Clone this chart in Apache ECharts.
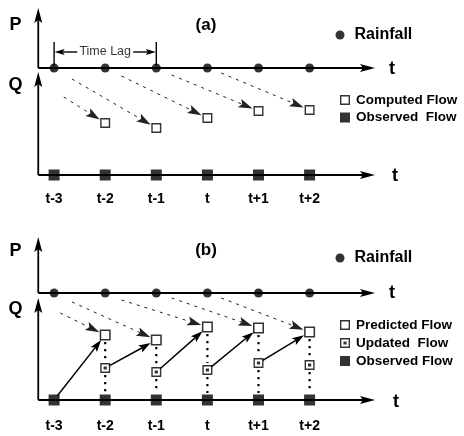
<!DOCTYPE html>
<html><head><meta charset="utf-8">
<script src="https://cdn.jsdelivr.net/npm/echarts@6/dist/echarts.min.js"></script>
<style>html,body{margin:0;padding:0;background:#fff}#c{width:464px;height:436px}</style>
</head><body><div id="c"></div>
<script>
// ---------- data ----------
const timeLabels = ['t-3', 't-2', 't-1', 't', 't+1', 't+2'];
const timeSteps = [0, 1, 2, 3, 4, 5];
const rainfallLevel = 10.7;
// panel (a)
const observedA = [0, 0, 0, 0, 0, 0];
const computedA = [null, 5.2, 4.7, 5.7, 6.4, 6.5];
const lagStartXA = [0.19, 0.35, 1.32, 2.30, 3.27];
const lagStartYA = [7.8, 9.6, 9.9, 10.0, 10.2];
// panel (b)
const observedB = [0, 0, 0, 0, 0, 0];
const predictedB = [null, 6.5, 6.0, 7.3, 7.2, 6.8];
const updatedB = [null, 3.2, 2.8, 3.0, 3.7, 3.5];
const lagStartXB = [0.12, 0.35, 1.32, 2.30, 3.27];
const lagStartYB = [8.7, 9.8, 10.0, 10.2, 10.2];
// time lag bracket (from t-3 to t-1)
const timeLag = [0, 2];

// ---------- frame ----------
const T0 = -0.31, T1 = 6.28;
const pTop = [16.7, 16.3], qTop = [10.3, 10.2];
const lagBarY = 12.3;

const FONT = '"Liberation Sans", Arial, Helvetica, sans-serif';
const RING = 'path://M0,0L10,0L10,10L0,10Z M1.4,1.4L1.4,8.6L8.6,8.6L8.6,1.4Z';
const RING_DOT = 'path://M0,0L10,0L10,10L0,10Z M1.4,1.4L1.4,8.6L8.6,8.6L8.6,1.4Z M3.4,3.4L6.6,3.4L6.6,6.6L3.4,6.6Z';

function arrowSeries(g, segments, o) {
  return {
    type: 'custom', xAxisIndex: g, yAxisIndex: g, silent: true, z: o.z || 2,
    data: segments, encode: { x: [0, 2], y: [1, 3] },
    renderItem: function (params, api) {
      const a = api.coord([api.value(0), api.value(1)]);
      const b = api.coord([api.value(2), api.value(3)]);
      const dx = b[0] - a[0], dy = b[1] - a[1], len = Math.hypot(dx, dy) || 1;
      const ux = dx / len, uy = dy / len, px = -uy, py = ux;
      const gs = o.gapStart || 0, ge = o.gapEnd || 0;
      const s = [a[0] + ux * gs, a[1] + uy * gs];
      const tip = [b[0] - ux * ge, b[1] - uy * ge];
      const hl = o.headLen || 0, hw = o.headWidth || 0;
      const notch = [tip[0] - ux * hl * 0.8, tip[1] - uy * hl * 0.8];
      const end = hl ? notch : tip;
      const children = [{
        type: 'line',
        shape: { x1: s[0], y1: s[1], x2: end[0], y2: end[1] },
        style: { stroke: o.color || '#000', lineWidth: o.width || 1, lineDash: o.dash || null, lineCap: o.cap || 'butt' }
      }];
      if (hl) {
        const bb = [tip[0] - ux * hl, tip[1] - uy * hl];
        children.push({
          type: 'polygon',
          shape: { points: [tip, [bb[0] + px * hw / 2, bb[1] + py * hw / 2], notch, [bb[0] - px * hw / 2, bb[1] - py * hw / 2]] },
          style: { fill: o.color || '#000' }
        });
      }
      return { type: 'group', children: children };
    }
  };
}

function pts(values) {
  const out = [];
  values.forEach((v, i) => { if (v !== null) out.push([timeSteps[i], v]); });
  return out;
}

// segments
const axesSeg = g => [
  [T0, 0, T1, 0], [T0, rainfallLevel, T1, rainfallLevel],
  [T0, rainfallLevel, T0, pTop[g]], [T0, 0, T0, qTop[g]]
];
const lagSeg = (sx, sy, target) => sx.map((x, k) => [x, sy[k], timeSteps[k + 1], target[k + 1]]);
const updSeg = [];
const dotSeg = [];
for (let i = 1; i < timeSteps.length; i++) {
  if (i === 1) updSeg.push([timeSteps[0], observedB[0], timeSteps[1], predictedB[1]]);
  else updSeg.push([timeSteps[i - 1], updatedB[i - 1], timeSteps[i], predictedB[i]]);
  dotSeg.push([timeSteps[i], predictedB[i], timeSteps[i], updatedB[i]]);
  dotSeg.push([timeSteps[i], updatedB[i], timeSteps[i], observedB[i]]);
}
const lagMid = (timeLag[0] + timeLag[1]) / 2;
const bracketTicks = [[timeLag[0], 10.9, timeLag[0], 13.3], [timeLag[1], 10.9, timeLag[1], 13.3]];
const bracketArrows = [[lagMid, lagBarY, timeLag[0], lagBarY], [lagMid, lagBarY, timeLag[1], lagBarY]];

const axisCommon = g => ({
  type: 'value', gridIndex: g, min: -1, max: 7, interval: 1,
  axisLine: { show: false }, axisTick: { show: false }, splitLine: { show: false },
  axisLabel: {
    margin: g === 0 ? 17 : 19, fontSize: 14, fontWeight: 'bold', color: '#000', fontFamily: FONT,
    formatter: v => (timeLabels[v] !== undefined ? timeLabels[v] : '')
  }
});
const yCommon = g => ({ type: 'value', gridIndex: g, min: 0, max: 17, show: false });

const txt = { fontFamily: FONT, color: '#000', fontWeight: 'bold' };
const legendBase = { orient: 'vertical', padding: 0, selectedMode: false, itemWidth: 10, itemHeight: 10 };

const option = {
  animation: false,
  backgroundColor: '#fff',
  grid: [
    { left: 0.6, width: 411.2, top: 5, height: 170 },
    { left: 0.6, width: 411.2, top: 230, height: 170 }
  ],
  xAxis: [axisCommon(0), axisCommon(1)],
  yAxis: [yCommon(0), yCommon(1)],
  legend: [
    Object.assign({}, legendBase, { data: ['Rainfall'], left: 335.5, top: 27, itemWidth: 9, itemHeight: 9,
      textStyle: Object.assign({}, txt, { fontSize: 16, padding: [0, 0, 0, 5] }) }),
    Object.assign({}, legendBase, { data: ['Computed Flow', 'Observed Flow'], left: 340, top: 93, itemGap: 3.5,
      formatter: n => (n === 'Observed Flow' ? 'Observed  Flow' : n),
      textStyle: Object.assign({}, txt, { fontSize: 13.5, padding: [0, 0, 0, 1] }) }),
    Object.assign({}, legendBase, { data: ['Rainfall'], left: 335.5, top: 250, itemWidth: 9, itemHeight: 9,
      textStyle: Object.assign({}, txt, { fontSize: 16, padding: [0, 0, 0, 5] }) }),
    Object.assign({}, legendBase, { data: ['Predicted Flow', 'Updated Flow', 'Observed Flow'], left: 340, top: 318, itemGap: 4,
      formatter: n => (n === 'Updated Flow' ? 'Updated  Flow' : n),
      textStyle: Object.assign({}, txt, { fontSize: 13.5, padding: [0, 0, 0, 1] }) })
  ],
  graphic: [
    { type: 'text', x: 15.5, y: 25, style: { text: 'P', font: 'bold 18px ' + FONT, fill: '#000', align: 'center', verticalAlign: 'middle' } },
    { type: 'text', x: 15.5, y: 85, style: { text: 'Q', font: 'bold 18px ' + FONT, fill: '#000', align: 'center', verticalAlign: 'middle' } },
    { type: 'text', x: 206, y: 25, style: { text: '(a)', font: 'bold 17px ' + FONT, fill: '#000', align: 'center', verticalAlign: 'middle' } },
    { type: 'text', x: 392, y: 69, style: { text: 't', font: 'bold 18px ' + FONT, fill: '#000', align: 'center', verticalAlign: 'middle' } },
    { type: 'text', x: 395, y: 176, style: { text: 't', font: 'bold 18px ' + FONT, fill: '#000', align: 'center', verticalAlign: 'middle' } },
    { type: 'text', x: 15.5, y: 251, style: { text: 'P', font: 'bold 18px ' + FONT, fill: '#000', align: 'center', verticalAlign: 'middle' } },
    { type: 'text', x: 15.5, y: 309, style: { text: 'Q', font: 'bold 18px ' + FONT, fill: '#000', align: 'center', verticalAlign: 'middle' } },
    { type: 'text', x: 206, y: 250, style: { text: '(b)', font: 'bold 17px ' + FONT, fill: '#000', align: 'center', verticalAlign: 'middle' } },
    { type: 'text', x: 392, y: 293, style: { text: 't', font: 'bold 18px ' + FONT, fill: '#000', align: 'center', verticalAlign: 'middle' } },
    { type: 'text', x: 396, y: 402, style: { text: 't', font: 'bold 18px ' + FONT, fill: '#000', align: 'center', verticalAlign: 'middle' } }
  ],
  series: [
    // panel (a)
    arrowSeries(0, axesSeg(0), { width: 1.8, headLen: 15, headWidth: 8 }),
    arrowSeries(0, lagSeg(lagStartXA, lagStartYA, computedA), { width: 1, dash: [3, 5], color: '#222', headLen: 14, headWidth: 9, gapEnd: 6.5 }),
    arrowSeries(0, bracketTicks, { width: 1.4 }),
    arrowSeries(0, bracketArrows, { width: 1.4, headLen: 10, headWidth: 6, gapStart: 28, gapEnd: 0.5 }),
    { type: 'scatter', xAxisIndex: 0, yAxisIndex: 0, silent: true, symbolSize: 0, z: 5,
      data: [[lagMid, lagBarY]],
      label: { show: true, position: 'inside', formatter: 'Time Lag', fontSize: 12.5, fontFamily: FONT, color: '#000' } },
    { name: 'Rainfall', type: 'scatter', xAxisIndex: 0, yAxisIndex: 0, symbol: 'circle', symbolSize: 9, z: 4,
      itemStyle: { color: '#000' }, data: timeSteps.map(i => [i, rainfallLevel]) },
    { name: 'Observed Flow', type: 'scatter', xAxisIndex: 0, yAxisIndex: 0, symbol: 'rect', symbolSize: 11, z: 4,
      itemStyle: { color: '#000' }, data: pts(observedA) },
    { name: 'Computed Flow', type: 'scatter', xAxisIndex: 0, yAxisIndex: 0, symbol: RING, symbolSize: 10, z: 4,
      itemStyle: { color: '#000' }, data: pts(computedA) },
    // panel (b)
    arrowSeries(1, axesSeg(1), { width: 1.8, headLen: 15, headWidth: 8 }),
    arrowSeries(1, lagSeg(lagStartXB, lagStartYB, predictedB), { width: 1, dash: [3, 5], color: '#222', headLen: 14, headWidth: 9, gapEnd: 6.5 }),
    arrowSeries(1, updSeg, { width: 1.5, headLen: 12, headWidth: 8, gapStart: 5, gapEnd: 6.5 }),
    arrowSeries(1, dotSeg, { width: 2.2, dash: [2.2, 4.8], gapStart: 7, gapEnd: 7 }),
    { name: 'Rainfall', type: 'scatter', xAxisIndex: 1, yAxisIndex: 1, symbol: 'circle', symbolSize: 9, z: 4,
      itemStyle: { color: '#000' }, data: timeSteps.map(i => [i, rainfallLevel]) },
    { name: 'Observed Flow', type: 'scatter', xAxisIndex: 1, yAxisIndex: 1, symbol: 'rect', symbolSize: 11, z: 4,
      itemStyle: { color: '#000' }, data: pts(observedB) },
    { name: 'Predicted Flow', type: 'scatter', xAxisIndex: 1, yAxisIndex: 1, symbol: RING, symbolSize: 11, z: 4,
      itemStyle: { color: '#000' }, data: pts(predictedB) },
    { name: 'Updated Flow', type: 'scatter', xAxisIndex: 1, yAxisIndex: 1, symbol: RING_DOT, symbolSize: 10, z: 4,
      itemStyle: { color: '#000' }, data: pts(updatedB) }
  ]
};

const chart = echarts.init(document.getElementById('c'), null, { renderer: 'canvas' });
chart.setOption(option);
</script>
</body></html>
